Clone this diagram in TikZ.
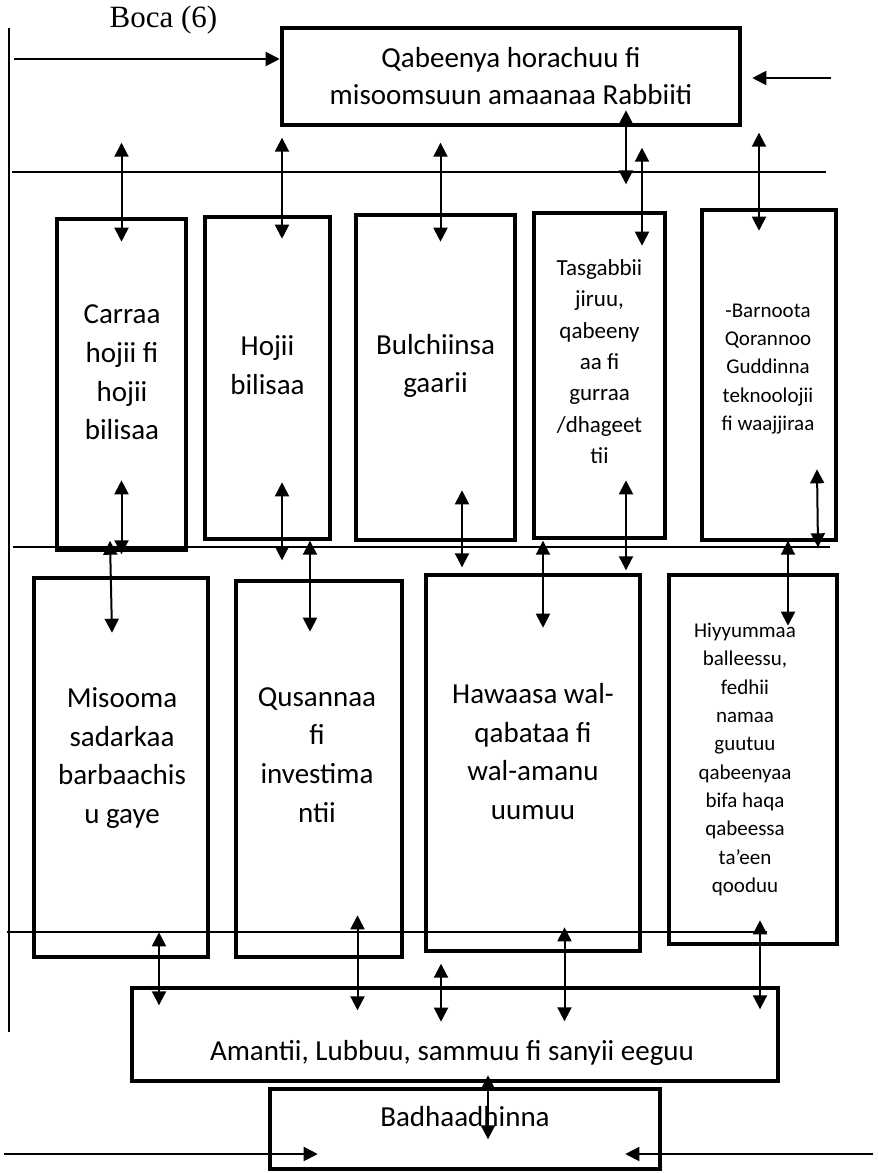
\documentclass[tikz,border=0pt]{standalone}
\usepackage{fontspec}
\setmainfont{Carlito}
\newfontfamily\serifrm{Liberation Serif}
\usepackage{tikz}
\usetikzlibrary{arrows.meta,positioning,calc}
\tikzset{
  >={Triangle[width=14pt,length=14pt]},
  box/.style={draw=black,line width=4.6pt,inner sep=0pt},
  txt/.style={align=center,inner sep=0pt,font=\fontsize{29}{38.7}\selectfont},
  stxt/.style={txt,font=\fontsize{23}{31.3}\selectfont},
  xstxt/.style={txt,font=\fontsize{21}{28.3}\selectfont},
  arr/.style={<->,line width=2pt},
  harr/.style={->,line width=2pt},
  rule/.style={line width=1.5pt},
}
\begin{document}
\begin{tikzpicture}[x=1pt,y=1pt]
\useasboundingbox (0,0) rectangle (878,-1173);
% guide lines
\draw[rule] (9,-28) -- (9,-1032);
\draw[rule] (12,-172) -- (826,-172);
\draw[rule] (13,-547) -- (830,-547);
\draw[rule] (7,-932) -- (767,-932);
% boxes
\node[box,minimum width=458pt,minimum height=97pt] (top) at (511,-76.5) {};
\node[box,minimum width=129pt,minimum height=331pt] (carraa) at (121.5,-384.5) {};
\node[box,minimum width=125pt,minimum height=322pt] (hojii) at (267.5,-378) {};
\node[box,minimum width=159pt,minimum height=325pt] (bulch) at (435.5,-377.5) {};
\node[box,minimum width=131pt,minimum height=325pt] (tasg) at (599.5,-375.5) {};
\node[box,minimum width=134pt,minimum height=330pt] (barn) at (769,-375) {};
\node[box,minimum width=174pt,minimum height=379pt] (misooma) at (121,-767.5) {};
\node[box,minimum width=166pt,minimum height=376pt] (qusan) at (319,-769) {};
\node[box,minimum width=214pt,minimum height=376pt] (hawaasa) at (533,-763) {};
\node[box,minimum width=168pt,minimum height=369pt] (hiyyu) at (753,-759.5) {};
\node[box,minimum width=646pt,minimum height=93pt] (amantii) at (455,-1034.5) {};
\node[box,minimum width=390pt,minimum height=80pt] (badh) at (465,-1129) {};
% texts
\node[inner sep=0pt,font=\serifrm\fontsize{31}{36}\selectfont] (boca) at (163.5,-20) {Boca (6)};
\node[txt,font=\fontsize{29}{37}\selectfont] (top-t) at (top) {Qabeenya horachuu fi\\misoomsuun amaanaa Rabbiiti};
\node[txt] (carraa-t) at ([xshift=0.5pt,yshift=12pt]carraa.center) {Carraa\\hojii fi\\hojii\\bilisaa};
\node[txt] (hojii-t) at ([yshift=13pt]hojii.center) {Hojii\\bilisaa};
\node[txt] (bulch-t) at ([yshift=11.5pt]bulch.center) {Bulchiinsa\\gaarii};
\node[stxt] (tasg-t) at ([yshift=14pt]tasg.center) {Tasgabbii\\jiruu,\\qabeeny\\aa fi\\gurraa\\/dhageet\\tii};
\node[xstxt] (barn-t) at ([xshift=-1pt,yshift=6pt]barn.center) {-Barnoota\\Qorannoo\\Guddinna\\teknoolojii\\fi waajjiraa};
\node[txt] (misooma-t) at ([xshift=1pt,yshift=9.5pt]misooma.center) {Misooma\\sadarkaa\\barbaachis\\u gaye};
\node[txt] (qusan-t) at ([xshift=-2pt,yshift=14pt]qusan.center) {Qusannaa\\fi\\investima\\ntii};
\node[txt] (hawaasa-t) at ([yshift=11.5pt]hawaasa.center) {Hawaasa wal-\\qabataa fi\\wal-amanu\\uumuu};
\node[xstxt] (hiyyu-t) at ([xshift=-8pt]hiyyu.center) {Hiyyummaa\\balleessu,\\fedhii\\namaa\\guutuu\\qabeenyaa\\bifa haqa\\qabeessa\\ta’een\\qooduu};
\node[txt] (amantii-t) at ([xshift=-3pt,yshift=-18.5pt]amantii.center) {Amantii, Lubbuu, sammuu fi sanyii eeguu};
\node[txt] (badh-t) at ([yshift=12pt]badh.center) {Badhaadhinna};
% two-way links
\foreach \n/\a/\dx/\ya/\yb in {carraa/north/0/74/-25, hojii/north/14.5/77/-24, bulch/north/5/70/-29,
  top/south/115/17/-57, tasg/north/42.5/63/-35, barn/north/-10/75/-23,
  carraa/south/0/72/-2, hojii/south/14.5/59/-19, qusan/north/-9/38/-53, bulch/south/26.5/52/-25,
  hawaasa/north/10/32/-55, tasg/south/26.5/60/-30, hiyyu/north/35/32/-53,
  misooma/south/38/27/-46, qusan/south/38.5/44/-51, amantii/north/-14/22/-36,
  hawaasa/south/31.5/26/-68, hiyyu/south/7/26/-63, amantii/south/33/8/-56}
  \draw[arr] ([xshift=\dx pt,yshift=\ya pt]\n.\a) -- ([xshift=\dx pt,yshift=\yb pt]\n.\a);
\draw[arr] ([xshift=-11pt,yshift=35pt]misooma.north) -- ([xshift=-9pt,yshift=-57pt]misooma.north);
\draw[arr] ([xshift=48pt,yshift=73pt]barn.south) -- ([xshift=49pt,yshift=-5pt]barn.south);
% side inputs
\coordinate (inTL) at (14,-59);
\coordinate (inTR) at (831,-78);
\coordinate (inBL) at (4,-1154);
\coordinate (inBR) at (873,-1154);
\draw[harr] (inTL) -- ([yshift=17.5pt]top.west);
\draw[harr] (inTR) -- ([xshift=10pt,yshift=-1.5pt]top.east);
\draw[harr] (inBL) -- ([xshift=50pt,yshift=-25pt]badh.west);
\draw[harr] (inBR) -- ([xshift=-37pt,yshift=-25pt]badh.east);
\end{tikzpicture}
\end{document}
